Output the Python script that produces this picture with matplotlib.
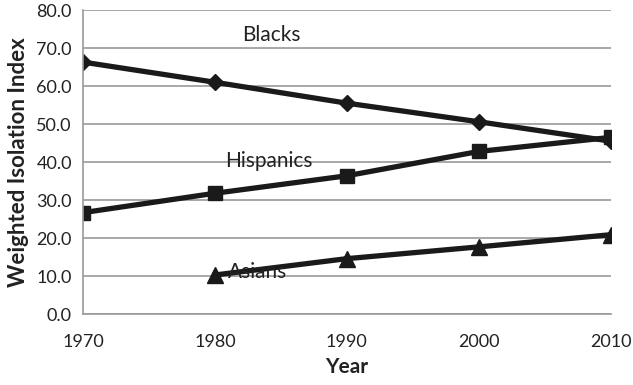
import matplotlib
matplotlib.use("Agg")
from matplotlib import pyplot as plt

plt.rcParams['font.family'] = ['Lato', 'DejaVu Sans']

years = [1970, 1980, 1990, 2000, 2010]
blacks = [66.3, 61.0, 55.5, 50.6, 45.5]
hispanics = [26.7, 31.8, 36.4, 42.8, 46.5]
asian_years = [1980, 1990, 2000, 2010]
asians = [10.3, 14.6, 17.7, 20.9]
yticks = [0, 10, 20, 30, 40, 50, 60, 70, 80]

fig = plt.figure(figsize=(6.33, 3.85), dpi=100)
ax = fig.add_axes([0.131, 0.184, 0.834, 0.79])

ax.plot(years, blacks, color="#1a1a1a", lw=3.8, marker="D", ms=8)
ax.plot(years, hispanics, color="#1a1a1a", lw=3.8, marker="s", ms=10)
ax.plot(asian_years, asians, color="#1a1a1a", lw=3.8, marker="^", ms=11)

ax.text(1984.3, 73.4, "Blacks", fontsize=15, ha="center", va="center", color="#222222")
ax.text(1984.1, 40.3, "Hispanics", fontsize=15, ha="center", va="center", color="#222222")
ax.text(1983.2, 11.0, "Asians", fontsize=15, ha="center", va="center", color="#222222")

ax.set_xlim(1970, 2010)
ax.set_ylim(0, 80)
ax.set_xticks(years)
ax.set_yticks(yticks)
ax.set_yticklabels(["%.1f" % v for v in yticks])
ax.tick_params(length=0, labelsize=13, colors="#222222", pad=8)
ax.tick_params(axis="x", pad=14)
ax.yaxis.grid(True, color="#9a9a9a", lw=1.2)
ax.set_axisbelow(True)
for s in ["top", "right"]:
    ax.spines[s].set_visible(False)
for s in ["left", "bottom"]:
    ax.spines[s].set_color("#9a9a9a")
    ax.spines[s].set_linewidth(1.2)
ax.set_xlabel("Year", fontsize=15, fontweight="bold", color="#222222", labelpad=5)
ax.set_ylabel("Weighted Isolation Index", fontsize=16, fontweight="bold", color="#222222", labelpad=5)

fig.savefig("out.png", dpi=100)
